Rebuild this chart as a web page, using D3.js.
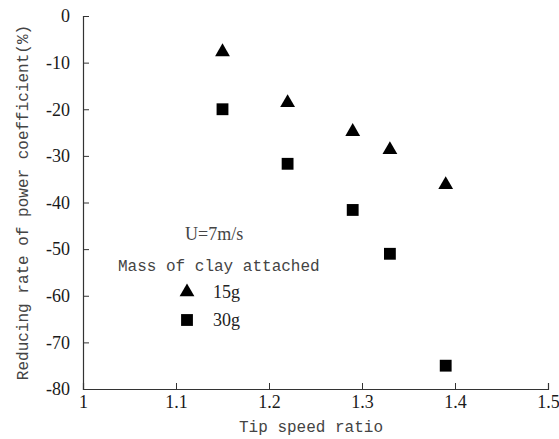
<!DOCTYPE html>
<html>
<head>
<meta charset="utf-8">
<script src="https://cdn.jsdelivr.net/npm/d3@7"></script>
<style>
  html, body { margin: 0; padding: 0; background: #fff; }
  svg { display: block; }
</style>
</head>
<body>
<div id="chart"></div>
<script>
// Tip speed ratio at which each measurement was taken
const tipSpeedRatio = [1.15, 1.22, 1.29, 1.33, 1.39];
// Reducing rate of power coefficient (%) for each clay mass
const clay15g = [-7.7, -18.6, -24.8, -28.7, -36.2];
const clay30g = [-20.0, -31.7, -41.6, -51.0, -75.0];
const xTicks = [1, 1.1, 1.2, 1.3, 1.4, 1.5];
const yTicks = [0, -10, -20, -30, -40, -50, -60, -70, -80];
const seriesNames = ["15g", "30g"];

const W = 559, H = 439;
const margin = { left: 83, right: 11, top: 16, bottom: 50 };

const SERIF = "Liberation Serif, serif";
const MONO = "Liberation Mono, monospace";

const svg = d3.select("#chart").append("svg")
  .attr("width", W).attr("height", H);

const x = d3.scaleLinear().domain([1, 1.5]).range([margin.left, W - margin.right]);
const y = d3.scaleLinear().domain([-80, 0]).range([H - margin.bottom, margin.top]);

// Axes with inward ticks
const xAxis = svg.append("g")
  .attr("transform", `translate(0,${y(-80)})`)
  .call(d3.axisBottom(x).tickValues(xTicks).tickSize(-6).tickPadding(14)
        .tickFormat(d3.format("")));
const yAxis = svg.append("g")
  .attr("transform", `translate(${x(1)},0)`)
  .call(d3.axisLeft(y).tickValues(yTicks).tickSize(-6).tickPadding(13)
        .tickFormat(d => d === 0 ? "0" : "-" + Math.abs(d)));

[xAxis, yAxis].forEach(g => {
  g.style("font-family", SERIF).style("font-size", "18px");
  g.select(".domain").attr("stroke", "#333").attr("stroke-width", 1.2);
  g.selectAll(".tick line").attr("stroke", "#333").attr("stroke-width", 1);
  g.selectAll(".tick text")
    .style("font-family", SERIF).style("font-size", "18px").attr("fill", "#1a1a1a");
});
xAxis.selectAll(".tick text").attr("dy", "0.3em");

// Markers
const tri = d3.symbol().type(d3.symbolTriangle).size(95);
const sq = d3.symbol().type(d3.symbolSquare).size(140);

svg.append("g").selectAll("path")
  .data(tipSpeedRatio.map((r, i) => [r, clay15g[i]]))
  .join("path")
  .attr("d", tri)
  .attr("transform", d => `translate(${x(d[0])},${y(d[1])})`)
  .attr("fill", "#000");

svg.append("g").selectAll("path")
  .data(tipSpeedRatio.map((r, i) => [r, clay30g[i]]))
  .join("path")
  .attr("d", sq)
  .attr("transform", d => `translate(${x(d[0])},${y(d[1])})`)
  .attr("fill", "#000");

// Axis titles
svg.append("text")
  .attr("x", 311).attr("y", 432)
  .attr("text-anchor", "middle")
  .style("font-family", MONO).style("font-size", "16px").attr("fill", "#444")
  .text("Tip speed ratio");

svg.append("text")
  .attr("transform", `translate(28,${y(-40)}) rotate(-90)`)
  .attr("text-anchor", "middle")
  .style("font-family", MONO).style("font-size", "16px").attr("fill", "#444")
  .text("Reducing rate of power coefficient(%)");

// Legend
const legend = svg.append("g");
legend.append("text")
  .attr("x", 185).attr("y", 240)
  .style("font-family", SERIF).style("font-size", "18px").attr("fill", "#444")
  .text("U=7m/s");
legend.append("text")
  .attr("x", 118).attr("y", 271)
  .style("font-family", MONO).style("font-size", "16px").attr("fill", "#444")
  .text("Mass of clay attached");

const legendRows = [
  { name: seriesNames[0], sym: tri, cy: 292 },
  { name: seriesNames[1], sym: sq, cy: 320 }
];
legendRows.forEach(r => {
  legend.append("path").attr("d", r.sym)
    .attr("transform", `translate(187,${r.cy})`).attr("fill", "#000");
  legend.append("text")
    .attr("x", 213).attr("y", r.cy + 6)
    .style("font-family", SERIF).style("font-size", "18px").attr("fill", "#222")
    .text(r.name);
});
</script>
</body>
</html>
